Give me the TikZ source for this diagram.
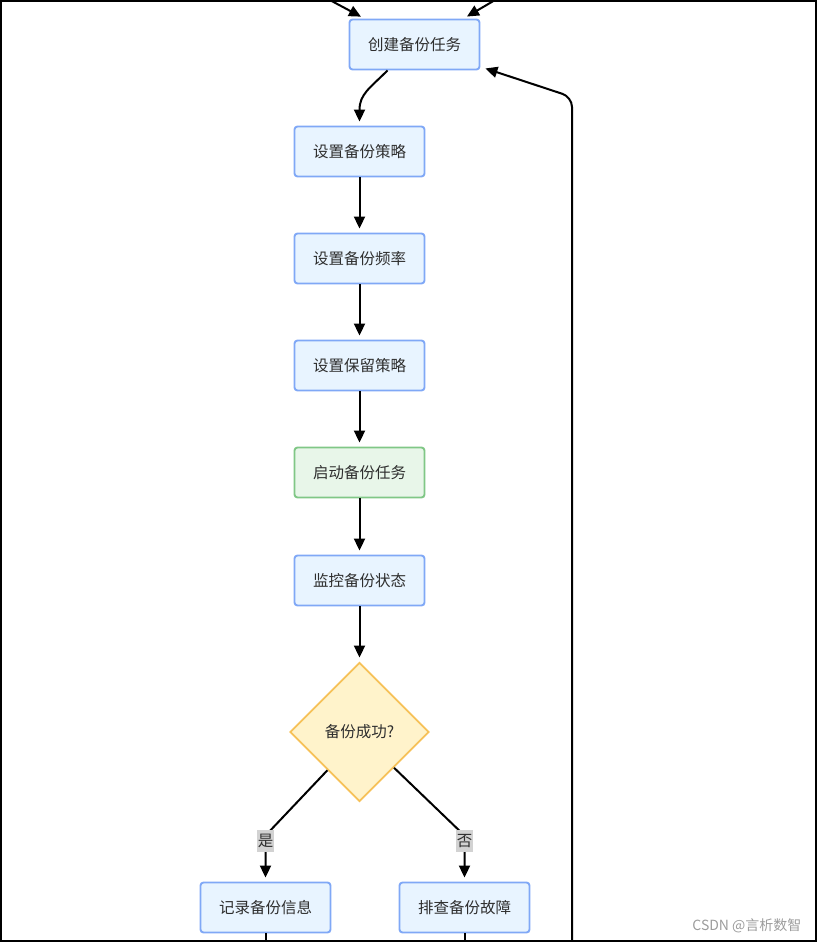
\documentclass[tikz,border=0pt]{standalone}
\usepackage{fontspec}
\setmainfont{Noto Sans CJK SC}
\usetikzlibrary{shapes.geometric,arrows.meta,calc}

\definecolor{boxfill}{HTML}{E8F4FF}
\definecolor{boxline}{HTML}{80A8F6}
\definecolor{greenfill}{HTML}{E8F6E9}
\definecolor{greenline}{HTML}{80C786}
\definecolor{decfill}{HTML}{FFF3CB}
\definecolor{decline}{HTML}{F6C158}
\definecolor{lblgray}{HTML}{D2D2D2}
\definecolor{txtgray}{HTML}{2E2E2E}
\definecolor{markgray}{HTML}{9C9C9C}

\begin{document}
\begin{tikzpicture}[x=1pt,y=-1pt]

        \tikzstyle{every node}=[text=txtgray,font=\fontsize{15.5}{18}\selectfont]
        \tikzstyle{box}=[draw=boxline,fill=boxfill,line width=1.9pt,rounded corners=3pt,minimum width=130pt,minimum height=50pt]
        \tikzstyle{arr}=[-{Triangle[length=12pt,width=11pt]},line width=2pt,shorten >=4pt]
        \tikzstyle{lbl}=[fill=lblgray,inner xsep=0.5pt,inner ysep=0pt,minimum height=22pt]

        \useasboundingbox (0,0) rectangle (817,942);
        \clip (0,0) rectangle (817,942);

        \node[box] (create) at (414.5,44.5) {创建备份任务};
        \foreach \n / \y / \t in {policy/151.5/设置备份策略, freq/258.5/设置备份频率, keep/365.5/设置保留策略, monitor/580.5/监控备份状态} {
            \node[box] (\n) at (359.5,\y) {\t};
        }
        \node[box,draw=greenline,fill=greenfill] (start) at (359.5,472.5) {启动备份任务};
        \node[diamond,aspect=1,draw=decline,fill=decfill,line width=1.9pt,minimum width=139pt,minimum height=139pt,inner sep=0pt] (ok) at (359.5,732) {备份成功?};
        \node[box] (record) at (265.5,907.5) {记录备份信息};
        \node[box] (fault) at (464.5,907.5) {排查备份故障};

        \coordinate (inl) at (326,-2);
        \coordinate (inr) at (498.5,-2);
        \coordinate (loopbot) at (572,946);
        \coordinate (recend) at (265.5,946);
        \coordinate (faultend) at (464.5,946);

        \draw[arr] (inl) -- ($(create.north)+(-50,0)$);
        \draw[arr] (inr) -- ($(create.north)+(49,0)$);
        \draw[arr] ($(create.south)+(-27,0)$) .. controls (370,88) and (359.5,94) .. (policy.north);

        \foreach \a / \b in {policy/freq, freq/keep, keep/start, start/monitor, monitor/ok} {
            \draw[arr] (\a) -- (\b);
        }

        \draw[arr] (ok.230) -- ([yshift=46pt]record.north) -- node[lbl,pos=0.12] {是} (record.north);
        \draw[arr] (ok.314) -- ([yshift=46pt]fault.north) -- node[lbl,pos=0.12] {否} (fault.north);

        \draw[line width=2pt] (record) -- (recend);
        \draw[line width=2pt] (fault) -- (faultend);
        \draw[arr,shorten >=0pt,rounded corners=10pt] (loopbot) -- (572,97) -- ($(create.south east)+(5,-2)$);

        \node[anchor=east,text=markgray,font=\fontsize{14}{16}\selectfont] (mark) at (805,926) {CSDN @言析数智};

        \draw[line width=2.4pt] (1,1) rectangle (816,941);

\end{tikzpicture}
\end{document}
